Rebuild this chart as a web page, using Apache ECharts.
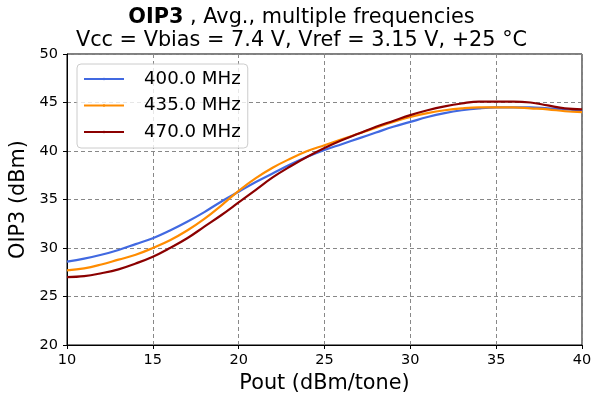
<!DOCTYPE html>
<html><head><meta charset="utf-8">
<script src="https://cdn.jsdelivr.net/npm/echarts@6/dist/echarts.min.js"></script>
<style>html,body{margin:0;padding:0;background:#fff}#c{width:603px;height:399px}</style>
</head><body><div id="c"></div>
<script>
var pout = [10,11,12,13,14,15,16,17,18,19,20,21,22,23,24,25,26,27,28,29,30,31,32,33,34,35,36,37,38,39,40];
var f400 = [28.6,28.9,29.3,29.8,30.4,31.0,31.8,32.7,33.7,34.8,35.8,36.8,37.7,38.6,39.4,40.1,40.7,41.3,41.9,42.5,43.0,43.5,43.9,44.2,44.4,44.5,44.5,44.5,44.4,44.3,44.2];
var f435 = [27.7,27.9,28.3,28.8,29.3,30.0,30.8,31.8,33.0,34.4,35.9,37.2,38.3,39.2,40.0,40.6,41.2,41.8,42.4,43.0,43.5,43.9,44.2,44.4,44.5,44.5,44.5,44.4,44.3,44.1,44.0];
var f470 = [27.0,27.1,27.4,27.8,28.4,29.1,30.0,31.0,32.2,33.4,34.7,36.0,37.3,38.4,39.4,40.3,41.1,41.8,42.5,43.1,43.7,44.2,44.6,44.9,45.1,45.1,45.1,45.0,44.7,44.4,44.3];
var names = ['400.0 MHz','435.0 MHz','470.0 MHz'];
var colors = ['#4169e1','#ff8c00','#8b0000'];
var xTicks = [10,15,20,25,30,35,40];
var yTicks = [20,25,30,35,40,45,50];

function pairs(ys){ return pout.map(function(x,i){return [x, ys[i]];}); }
var font = 'DejaVu Sans';
var chart = echarts.init(document.getElementById('c'), null, {renderer:'canvas'});
var dataSets = [f400, f435, f470];
chart.setOption({
  animation:false,
  textStyle:{fontFamily:font},
  title:{
    left:'center', top:6, padding:0,
    text:'{b|OIP3} , Avg., multiple frequencies\nVcc = Vbias = 7.4 V, Vref = 3.15 V, +25 °C',
    textStyle:{fontFamily:font, fontSize:20.8, fontWeight:'normal', color:'#000', lineHeight:23,
      rich:{b:{fontFamily:font, fontSize:20.8, fontWeight:'bold', color:'#000', lineHeight:23}}}
  },
  grid:{left:67, right:21, top:54, bottom:54, outerBoundsMode:'none', containLabel:false,
    show:true, borderColor:'#000', borderWidth:1, backgroundColor:'transparent'},
  legend:{
    left:77, top:64, orient:'vertical', itemWidth:40, itemHeight:3, itemGap:8.5,
    padding:[6,7,7,6],
    backgroundColor:'rgba(255,255,255,0.8)', borderColor:'#cccccc', borderWidth:1, borderRadius:4,
    textStyle:{fontFamily:font, fontSize:18.2, lineHeight:18, color:'#000', padding:[0,0,0,15]},
    data:names
  },
  xAxis:{
    type:'value', min:10, max:40, interval:5,
    name:'Pout (dBm/tone)', nameLocation:'middle', nameGap:28,
    nameTextStyle:{fontFamily:font, fontSize:20.8, color:'#000'},
    axisLine:{show:true, lineStyle:{color:'#000'}},
    axisTick:{show:true, length:4, lineStyle:{color:'#000'}},
    axisLabel:{fontFamily:font, fontSize:14.5, color:'#000', margin:8},
    splitLine:{show:true, lineStyle:{color:'#888', type:[4,3], width:1}}
  },
  yAxis:{
    type:'value', min:20, max:50, interval:5,
    name:'OIP3 (dBm)', nameLocation:'middle', nameGap:33,
    nameTextStyle:{fontFamily:font, fontSize:20.8, color:'#000'},
    axisLine:{show:true, lineStyle:{color:'#000'}},
    axisTick:{show:true, length:4, lineStyle:{color:'#000'}},
    axisLabel:{fontFamily:font, fontSize:14.5, color:'#000', margin:9},
    splitLine:{show:true, lineStyle:{color:'#888', type:[4,3], width:1}}
  },
  series: dataSets.map(function(d,i){
    return {name:names[i], type:'line', data:pairs(d), symbol:'none', smooth:0.4,
      lineStyle:{color:colors[i], width:2.2}, itemStyle:{color:colors[i]}, z:3+i};
  })
});
</script></body></html>
